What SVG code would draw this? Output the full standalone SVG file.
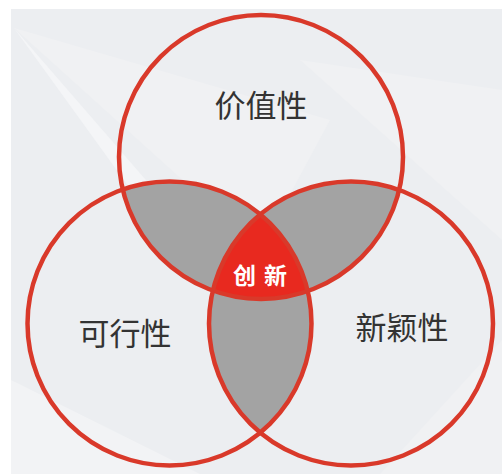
<svg xmlns="http://www.w3.org/2000/svg" width="502" height="474" viewBox="0 0 502 474">
<style>
.ring{fill:none;stroke:#d9392a;stroke-width:4.5}
.lens{fill:#a3a3a3}
.lbl{font-family:"Noto Sans CJK SC","Noto Sans",sans-serif;font-size:31px;fill:#333;text-anchor:middle}
.core{font-family:"Noto Sans CJK SC","Noto Sans",sans-serif;font-size:23px;font-weight:bold;fill:#fff;text-anchor:middle;letter-spacing:8px}
</style>
<defs>
<clipPath id="cT"><circle cx="261" cy="157" r="142"/></clipPath>
<clipPath id="cL"><circle cx="169.5" cy="323.5" r="142"/></clipPath>
<clipPath id="cR"><circle cx="351" cy="323.5" r="142"/></clipPath>
</defs>
<rect width="502" height="474" fill="#ffffff"/>
<g id="background">
<rect x="11" y="9" width="491" height="465" fill="#eceef1"/>
<polygon points="14,28 160,230 250,300" fill="#f4f5f7"/>
<polygon points="14,28 330,120 260,250" fill="#f0f1f3"/>
<polygon points="300,60 502,90 502,240" fill="#f0f1f3"/>
<polygon points="11,380 200,474 11,474" fill="#f2f3f5"/>
<polygon points="380,474 502,340 502,474" fill="#f0f1f3"/>
</g>
<g id="overlaps">
<g clip-path="url(#cT)"><circle class="lens" cx="169.5" cy="323.5" r="142"/><circle class="lens" cx="351" cy="323.5" r="142"/></g>
<g clip-path="url(#cL)"><circle class="lens" cx="351" cy="323.5" r="142"/></g>
<g clip-path="url(#cT)"><g clip-path="url(#cL)"><circle cx="351" cy="323.5" r="142" fill="#e8291f"/></g></g>
</g>
<g id="node-value"><circle class="ring" cx="261" cy="157" r="142"/><text class="lbl" x="261" y="117">价值性</text></g>
<g id="node-feasibility"><circle class="ring" cx="169.5" cy="323.5" r="142"/><text class="lbl" x="125" y="345">可行性</text></g>
<g id="node-novelty"><circle class="ring" cx="351" cy="323.5" r="142"/><text class="lbl" x="402" y="339">新颖性</text></g>
<g id="node-innovation"><text class="core" x="264" y="284">创新</text></g>
</svg>
